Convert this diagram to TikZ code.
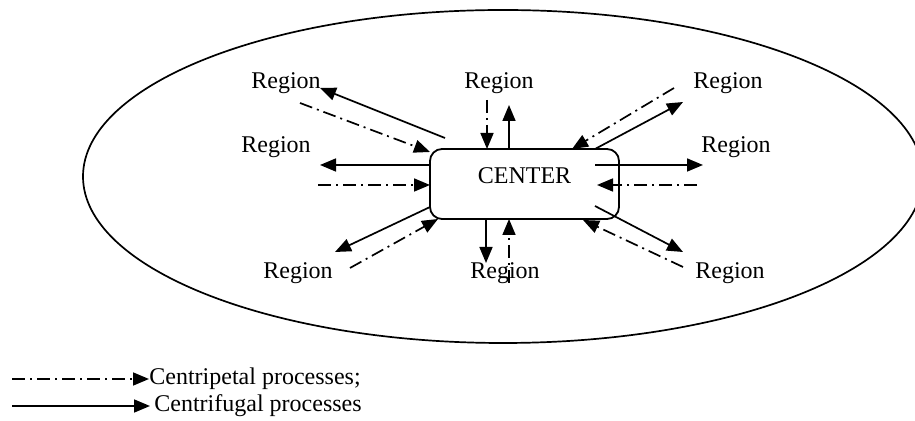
\documentclass[tikz,border=0pt]{standalone}
\usepackage{fontspec}
\setmainfont{Liberation Serif}
\usetikzlibrary{arrows.meta,positioning}
\tikzset{
  outflow/.style={line width=0.85pt,-{Triangle[length=8pt,width=6.5pt]}},
  inflow/.style={outflow,dash pattern=on 6.5pt off 2.5pt on 1pt off 2.5pt},
  region/.style={font=\fontsize{12}{14}\selectfont,inner sep=0pt}
}
\begin{document}
\begin{tikzpicture}[x=0.5pt,y=-0.5pt]
  \useasboundingbox (0,0) rectangle (915,421);
  % the whole territory
  \draw[line width=0.85pt] (503,176.5) ellipse [x radius=420, y radius=166.5];
  \node[draw,line width=0.9pt,rounded corners=6pt,minimum width=94.5pt,minimum height=35pt,
        text depth=8.5pt,font=\fontsize{12}{14}\selectfont] (center) at (524.5,184) {CENTER};
  % regions
  \node[region] (r-nw) at (286,83) {Region};
  \node[region] (r-w) at (276,147) {Region};
  \node[region] (r-n) at (499,83) {Region};
  \node[region] (r-ne) at (728,83) {Region};
  \node[region] (r-e) at (736,147) {Region};
  \node[region] (r-sw) at (298,273) {Region};
  \node[region] (r-s) at (505,273) {Region};
  \node[region] (r-se) at (730,273) {Region};
  % arrow ends: o = centrifugal, i = centripetal
  \coordinate (nw-o1) at (445,138); \coordinate (nw-o2) at (320,88);
  \coordinate (nw-i1) at (300,103); \coordinate (nw-i2) at (430,152);
  \coordinate (w-o1) at (430,165);  \coordinate (w-o2) at (320,165);
  \coordinate (w-i1) at (318,185);  \coordinate (w-i2) at (430,185);
  \coordinate (n-o1) at (509,149);  \coordinate (n-o2) at (509,105);
  \coordinate (n-i1) at (487,100);  \coordinate (n-i2) at (487,149);
  \coordinate (ne-o1) at (595,149); \coordinate (ne-o2) at (683,102);
  \coordinate (ne-i1) at (674,88);  \coordinate (ne-i2) at (572,149);
  \coordinate (e-o1) at (595,165);  \coordinate (e-o2) at (703,165);
  \coordinate (e-i1) at (697,185);  \coordinate (e-i2) at (597,185);
  \coordinate (sw-o1) at (430,207); \coordinate (sw-o2) at (335,252);
  \coordinate (sw-i1) at (350,268); \coordinate (sw-i2) at (438,219);
  \coordinate (s-o1) at (486,219);  \coordinate (s-o2) at (486,263);
  \coordinate (s-i1) at (509,283);  \coordinate (s-i2) at (509,219);
  \coordinate (se-o1) at (595,206); \coordinate (se-o2) at (683,252);
  \coordinate (se-i1) at (683,267); \coordinate (se-i2) at (583,220);
  \foreach \d in {nw,w,n,ne,e,sw,s,se} {
    \draw[outflow] (\d-o1) -- (\d-o2);
    \draw[inflow] (\d-i1) -- (\d-i2);
  }
  % legend
  \node[region,anchor=west] (leg-in) at (149,379) {Centripetal processes;};
  \node[region,anchor=west] (leg-out) at (154,406) {Centrifugal processes};
  \coordinate (leg-a) at (12,379);
  \coordinate (leg-b) at (12,406);
  \draw[inflow] (leg-a) -- (leg-in.west);
  \draw[outflow] (leg-b) -- ([xshift=-2pt]leg-out.west);
\end{tikzpicture}
\end{document}
